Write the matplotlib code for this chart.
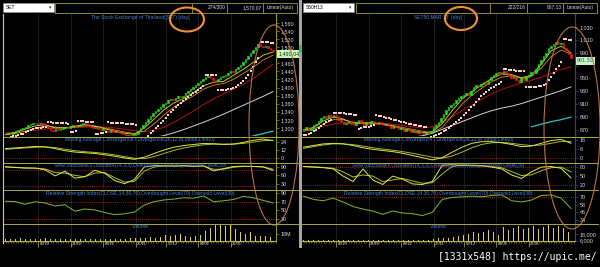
import numpy as np
import matplotlib
matplotlib.use("Agg")
import matplotlib.pyplot as plt
import matplotlib.transforms as mtrans
from matplotlib.patches import Ellipse, Rectangle
from matplotlib.ticker import MultipleLocator

plt.rcParams['font.family'] = ['Liberation Sans', 'DejaVu Sans']

# ---- data ----
dates = ['05/10', '24/10', '09/11', '27/11', '17/12', '04/01', '22/01']
date_bar = [13, 26, 39, 52, 64, 77, 90]

# SET index, daily closes
set_close = [1286, 1288, 1285, 1290, 1292, 1294,
             1297, 1300, 1303, 1306, 1309, 1311,
             1313, 1310, 1312, 1308, 1305,
             1300, 1296, 1293, 1297, 1295, 1298,
             1300, 1303, 1301, 1305, 1307, 1304,
             1308, 1310, 1312, 1309, 1306, 1303,
             1300, 1302, 1298, 1295, 1297, 1293,
             1291, 1294, 1290, 1292, 1289, 1287,
             1284, 1281, 1283, 1279, 1282, 1286,
             1293, 1300, 1308, 1315, 1322, 1330,
             1336, 1341, 1346, 1352, 1358, 1362,
             1368, 1372, 1370, 1375, 1378, 1376,
             1380, 1386, 1391, 1397, 1402, 1406,
             1412, 1416, 1422, 1425, 1428, 1423,
             1419, 1416, 1420, 1425, 1428, 1432,
             1436, 1440, 1438, 1445, 1450, 1455,
             1462, 1470, 1478, 1486, 1494, 1500,
             1508, 1504, 1500, 1502, 1497, 1494, 1490.04]
set_sar = [1275, 1276, 1277, 1279, 1280, 1282,
           1284, 1286, 1289, 1292, 1295, 1298, 1301,
           1300, 1301, 1302, 1302,
           1314, 1314, 1313, 1313, 1312, 1312, 1311, 1311, 1310,
           1290, 1291, 1292,
           1316, 1316, 1316, 1315, 1315, 1315, 1314,
           1285, 1286, 1287, 1288, 1289,
           1314, 1313, 1313, 1312, 1312, 1311, 1311, 1310, 1310, 1309, 1309, 1308,
           1265, 1268, 1272, 1276, 1281, 1287, 1293, 1299, 1305, 1311, 1318, 1325,
           1332, 1339, 1345, 1351, 1356, 1361, 1366, 1371, 1376, 1381, 1386, 1390,
           1395, 1399, 1403,
           1432, 1432, 1431, 1431, 1430,
           1394, 1394, 1395, 1395, 1396, 1397, 1399,
           1402, 1406, 1411, 1417, 1424, 1432, 1441, 1451, 1462, 1474,
           1513, 1513, 1512, 1512, 1511, 1511]
# moving averages, sampled every ~4 bars
set_ma_a = [1284, 1289, 1297, 1305, 1308, 1300, 1300, 1304, 1308, 1304, 1298, 1292, 1287, 1284,
            1300, 1322, 1345, 1362, 1373, 1388, 1405, 1413, 1415, 1430, 1445, 1462, 1480, 1488]
set_ma_b = [1283, 1286, 1292, 1299, 1304, 1302, 1300, 1302, 1305, 1305, 1300, 1295, 1290, 1286,
            1292, 1310, 1332, 1352, 1366, 1380, 1396, 1406, 1410, 1420, 1435, 1450, 1468, 1480]
set_ma_c = [1288, 1289, 1291, 1294, 1297, 1299, 1300, 1301, 1302, 1303, 1302, 1300, 1297, 1293,
            1291, 1294, 1302, 1314, 1328, 1342, 1358, 1372, 1384, 1396, 1408, 1422, 1440, 1458]
set_ma_d = [1252, 1254, 1256, 1257, 1259, 1260, 1261, 1262, 1263, 1264, 1265, 1266, 1267, 1268,
            1270, 1276, 1281, 1288, 1296, 1305, 1314, 1324, 1334, 1345, 1356, 1367, 1378, 1390]
set_ma_e = [np.nan] * 24 + [1274, 1280, 1286, 1292]
set_macd = [14, 15, 16, 17, 16.5, 14, 11, 9, 8, 7, 5, 3, 0.5, -1.5,
            1.5, 7, 12, 16, 18.5, 20, 21.5, 21, 20, 20.5, 23, 26, 28, 25.5]
set_signal = [13, 14, 15, 16, 16.5, 15.5, 13, 11, 9.5, 8.5, 7, 5, 2.5, 0,
              -0.5, 2.5, 7, 11.5, 15, 17.5, 19.5, 20.5, 20.5, 20.5, 21.5, 23.5, 25.5, 26]
set_k = [91, 88, 86, 86, 80, 58, 75, 50, 55, 78, 68, 42, 30, 45,
         90, 95, 94, 93, 95, 92, 94, 76, 84, 92, 93, 92, 90, 78]
set_d = [90, 89, 87, 86, 83, 70, 68, 60, 55, 68, 70, 52, 36, 38,
         75, 90, 94, 94, 94, 93, 93, 82, 82, 89, 92, 92, 91, 82]
set_rsi = [71, 70, 64, 70, 67, 60, 63, 48, 53, 51, 45, 40, 42, 46,
           62, 70, 74, 76, 79, 78, 83, 70, 72, 75, 82, 79, 73, 67]
set_vol = [5, 4, 6, 5, 4, 6, 7, 5, 6, 4, 5, 6,
           5, 6, 4, 5, 7, 6, 5, 4, 6, 5, 4, 6,
           5, 6, 5, 4, 6, 7, 5, 6, 4, 5, 6, 5,
           4, 5, 6, 5, 4, 6, 5, 4, 5, 6, 4, 5,
           6, 5, 7, 6, 8, 9, 7, 10, 8, 11, 9, 12,
           8, 14, 10, 12, 16, 9, 13, 11, 15, 10, 18, 12,
           14, 20, 11, 16, 13, 22, 15, 18, 26, 20, 34, 28,
           40, 24, 42, 30, 38, 22, 44, 26, 32, 20, 24, 16,
           18, 12, 22, 15, 14, 20, 12, 17, 13, 16, 11, 15]

# SET50 futures March 2013
s50_close = [872, 875, 870, 873, 877, 880,
             884, 888, 891, 889, 893, 890,
             894, 891, 886, 882, 879, 881,
             884, 880, 877, 882, 885, 881,
             878, 882, 880, 884, 881, 879,
             882, 880, 877, 879, 876, 873,
             876, 874, 871, 873, 869, 872,
             870, 867, 869, 866, 868, 865,
             864, 867, 865, 869, 874, 878,
             882, 888, 895, 901, 905, 909,
             912, 916, 919, 922, 925, 928,
             924, 930, 936, 940, 938, 941,
             944, 942, 947, 952, 956, 958,
             960, 957, 961, 959, 955, 951,
             953, 948, 945, 950, 947, 952,
             956, 960, 958, 965, 972, 978,
             985, 990, 997, 1001, 1004, 1006,
             1003, 1005, 998, 994, 988, 981.3]
s50_sar = [862, 863, 864, 866, 868, 870, 873, 876,
           879, 882, 884, 886,
           897, 897, 896, 896, 896, 895, 895, 895, 894, 894,
           872, 873, 874, 874, 875, 876, 877,
           893, 892, 891, 890, 889, 888, 887, 886, 885, 884, 883, 882, 881, 880,
           879, 878, 877, 876, 876, 875, 875,
           858, 859, 861, 863, 864, 866, 868, 870, 873, 876, 879, 882, 885, 889,
           893, 897, 901, 905, 909, 913, 918, 922, 926, 929, 932, 935, 937, 940, 942, 944,
           964, 964, 963, 963, 963, 962, 962, 962, 961,
           936, 936, 937, 937, 937, 938, 939, 940, 942,
           948, 953, 958, 964, 969, 976,
           1011, 1011, 1010, 1010]
s50_ma_a = [870, 874, 884, 890, 887, 881, 880, 881, 879, 876, 872, 869, 866, 867,
            880, 900, 918, 930, 940, 950, 957, 956, 951, 955, 972, 993, 1000, 990]
s50_ma_b = [868, 871, 879, 886, 886, 882, 881, 881, 880, 877, 874, 871, 868, 866,
            874, 892, 910, 924, 935, 945, 952, 954, 950, 953, 966, 984, 994, 988]
s50_ma_c = [870, 872, 876, 879, 881, 882, 882, 881, 880, 879, 877, 875, 873, 875,
            882, 890, 900, 909, 918, 926, 933, 938, 943, 947, 952, 958, 964, 968]
s50_ma_d = [845, 846, 847, 848, 849, 850, 851, 852, 853, 855, 857, 859, 861, 865,
            871, 877, 883, 889, 895, 900, 904, 907, 911, 916, 921, 926, 931, 937]
s50_ma_e = [np.nan] * 23 + [875, 879, 883, 886, 890]
s50_macd = [9.5, 11, 12.5, 13, 12.5, 11, 9, 7.5, 6.5, 5.5, 4, 2, 0, -2,
            0, 5, 9.5, 13, 14.5, 14.5, 13.5, 12, 10, 10.5, 13, 15.5, 16.5, 13]
s50_signal = [8.5, 10, 11.5, 12.5, 12.5, 11.8, 10.5, 9, 7.8, 6.8, 5.5, 4, 2.2, 0.5,
              -0.5, 1.5, 5, 9, 12, 13.5, 13.8, 13, 11.8, 11, 11.5, 13, 14.8, 14.5]
s50_k = [80, 78, 76, 72, 48, 30, 72, 35, 20, 48, 38, 22, 20, 30,
         84, 86, 84, 83, 82, 78, 72, 52, 40, 62, 78, 80, 74, 42]
s50_d = [80, 79, 77, 74, 62, 45, 52, 48, 30, 35, 40, 32, 24, 26,
         55, 80, 85, 84, 83, 80, 76, 63, 50, 52, 66, 76, 78, 62]
s50_rsi = [71, 66, 64, 68, 62, 55, 51, 48, 43, 48, 45, 44, 41, 46,
           66, 69, 70, 71, 70, 72, 73, 64, 62, 65, 72, 73, 68, 52]
s50_vol = [6500, 7000, 6200, 6800, 7200, 6600, 7400, 6900, 6300, 7100, 6700, 6400,
           7000, 6600, 7300, 6800, 6500, 7100, 6900, 6200, 6700, 7200, 6600, 6900,
           6800, 7100, 6400, 6900, 7300, 6600, 7000, 6500, 6800, 7200, 6700, 6400,
           6900, 7200, 6600, 7000, 6800, 7400, 6500, 7100, 6900, 7500, 6800, 7200,
           7800, 8200, 7600, 8800, 9200, 8400, 9800, 8900, 10500, 9400, 11200, 10000,
           12000, 10500, 14000, 11500, 16500, 13000, 18000, 12500, 21000, 15000, 19000, 14000,
           22000, 16000, 25000, 18000, 21000, 27000, 17000, 24000, 31000, 20000, 26000, 23000,
           29000, 21000, 33000, 24000, 28000, 22000, 30000, 26000, 32000, 23000, 27000, 25000,
           31000, 24000, 34000, 26000, 30000, 28000, 33000, 25000, 29000, 27000, 22000, 20000]

# ---- drawing ----
W, H = 600, 267
fig = plt.figure(figsize=(W / 100, H / 100), dpi=100, facecolor='black')

TXT = '#d8d8d8'
TITLE = '#4680da'
DOT = '#c42a2a'
SEP = '#a8a844'


def px_axes(x0, y0, x1, y1):
    ax = fig.add_axes([x0 / W, 1 - y1 / H, (x1 - x0) / W, (y1 - y0) / H])
    ax.set_facecolor('black')
    return ax


def setup(ax, p, ylim, ticks, labels=None, minor=None):
    ax.set_xlim(-0.6, -0.6 + (p['x1'] - p['x0']) / 2.5)
    ax.set_ylim(*ylim)
    for s in ('top', 'left', 'bottom'):
        ax.spines[s].set_visible(False)
    ax.spines['right'].set_color(p['axcol'])
    ax.spines['right'].set_linewidth(0.8)
    ax.yaxis.tick_right()
    ax.set_yticks(ticks)
    if labels is not None:
        ax.set_yticklabels(labels)
    if minor:
        ax.yaxis.set_minor_locator(MultipleLocator(minor))
    ax.tick_params(axis='y', which='both', colors=p['axcol'], labelcolor=TXT,
                   labelsize=3.9, length=2, width=0.5, pad=1.5)
    ax.tick_params(axis='y', which='minor', length=1)
    ax.set_xticks(date_bar)
    ax.tick_params(axis='x', length=0, labelbottom=False)
    ax.grid(axis='x', color='#2a2a2a', lw=0.5)
    ax.set_axisbelow(True)


def title(ax, text, dy, h):
    ax.text(0.5, 1 - dy / h, text, transform=ax.transAxes, ha='center',
            va='center', fontsize=3.6, color=TITLE, zorder=6)


def draw_panel(p):
    close = np.array(p['close'], dtype=float)
    n = len(close)
    idx = np.arange(n)
    xs = np.linspace(0, n - 1, len(p['ma_a']))

    # price; the tick hidden under the last-price box gets no label
    ax = px_axes(p['x0'], 14, p['x1'], 136)
    labels = ['' if t == p['hidden_tick'] else '{:,.0f}'.format(t) for t in p['ticks']]
    setup(ax, p, p['ylim'], p['ticks'], labels, minor=10)
    ax.plot(xs, p['ma_e'], color='#2cc4cc', lw=0.9, zorder=2)
    ax.plot(xs, p['ma_d'], color='#d4d4d4', lw=0.7, zorder=2)
    ax.plot(xs, p['ma_c'], color='#b01414', lw=0.7, zorder=2)
    ax.plot(xs, p['ma_b'], color='#e08c1c', lw=0.6, zorder=2)
    ax.plot(xs, p['ma_a'], color='#dede2a', lw=0.6, zorder=2)
    opn = np.r_[close[0], close[:-1]]
    col = np.where(close >= opn, '#22e022', '#f01c1c')
    ax.bar(idx, close - opn, bottom=opn, width=0.62, color=col,
           edgecolor=col, linewidth=0.4, zorder=3)
    ax.scatter(idx, p['sar'], s=0.9, marker='s', color='#ffcccc',
               linewidths=0, zorder=4)
    tr = mtrans.blended_transform_factory(ax.transAxes, ax.transData)
    ax.text(1.008, close[-1], p['last'], transform=tr, ha='left', va='top',
            fontsize=3.9, color=p['lastcol'], clip_on=False, zorder=7,
            bbox=dict(boxstyle='square,pad=0.3', fc='#c8f4bc', ec='none'))
    title(ax, p['title'], 4, 122)

    # MACD
    ax = px_axes(p['x0'], 137, p['x1'], 162)
    setup(ax, p, p['macd_ylim'], p['macd_ticks'])
    ax.axhline(0, color=DOT, ls=(0, (1, 1.5)), lw=0.6)
    ax.plot(xs, p['signal'], color='#9cc030', lw=0.7)
    ax.plot(xs, p['macd'], color='#e6e23c', lw=0.7)
    title(ax, 'Moving Average Convergence / Divergence(26,12,9),Value Line(0)', 3, 25)

    # stochastics
    ax = px_axes(p['x0'], 163, p['x1'], 189)
    setup(ax, p, p['sto_ylim'], p['sto_ticks'])
    for lv in (80, 20):
        ax.axhline(lv, color=DOT, ls=(0, (1, 1.5)), lw=0.6)
    ax.plot(xs, p['d'], color='#a4c232', lw=0.7)
    ax.plot(xs, p['k'], color='#e6e448', lw=0.7)
    title(ax, 'Slow Stochastics Oscillator(14,3,3),Overbought Level(80),Oversold Level(20)', 3, 26)

    # RSI
    ax = px_axes(p['x0'], 190, p['x1'], 223)
    setup(ax, p, p['rsi_ylim'], p['rsi_ticks'])
    for lv in (70, 30):
        ax.axhline(lv, color=DOT, ls=(0, (1, 1.5)), lw=0.6)
    ax.plot(xs, p['rsi'], color='#7cae30', lw=0.75)
    title(ax, 'Relative Strength Index(CLOSE,14,30,70),Overbought Level(70),Oversold Level(30)', 3, 33)

    # volume + date axis
    ax = px_axes(p['x0'], 224, p['x1'], 241)
    setup(ax, p, p['vol_ylim'], p['vol_ticks'], p['vol_labels'])
    ax.bar(idx, p['vol'], width=0.38, color='#d6d25c', zorder=2)
    ax.spines['bottom'].set_visible(True)
    ax.spines['bottom'].set_color('#b4b44a')
    ax.spines['bottom'].set_linewidth(0.8)
    ax.xaxis.set_minor_locator(MultipleLocator(1))
    ax.tick_params(axis='x', which='major', length=4.5, width=0.5,
                   color='#b4b44a', labelbottom=False)
    ax.tick_params(axis='x', which='minor', length=1.3, width=0.4, color='#b4b44a')
    dtr = mtrans.blended_transform_factory(ax.transData, ax.transAxes)
    for b, d in zip(date_bar, dates):
        ax.text(b + 0.7, -0.08, d, transform=dtr, fontsize=2.9, color=TXT,
                ha='left', va='top', clip_on=False)
    title(ax, 'Volume', 2.5, 17)


panels = [
    dict(x0=4, x1=276, axcol='#8e8e32', close=set_close, sar=set_sar,
         ma_a=set_ma_a, ma_b=set_ma_b, ma_c=set_ma_c, ma_d=set_ma_d, ma_e=set_ma_e,
         ylim=(1280, 1582), ticks=list(range(1300, 1561, 20)), hidden_tick=1480,
         last='1,490.04', lastcol='#1e3a1e',
         title='The Stock Exchange of Thailand(SET) [day]',
         macd=set_macd, signal=set_signal, macd_ylim=(-5.4, 30.8), macd_ticks=[0, 12, 24],
         k=set_k, d=set_d, sto_ylim=(11, 104.4), sto_ticks=[30, 60, 90],
         rsi=set_rsi, rsi_ylim=(20.8, 96.9), rsi_ticks=[30, 50, 70, 90],
         vol=set_vol, vol_ylim=(0, 43.7), vol_ticks=[18], vol_labels=['18M']),
    dict(x0=302, x1=575, axcol='#2644a8', close=s50_close, sar=s50_sar,
         ma_a=s50_ma_a, ma_b=s50_ma_b, ma_c=s50_ma_c, ma_d=s50_ma_d, ma_e=s50_ma_e,
         ylim=(860.7, 1050), ticks=list(range(870, 1031, 20)), hidden_tick=970,
         last='981.30', lastcol='#2a5aa8',
         title='SET50 MAR 13  [day]',
         macd=s50_macd, signal=s50_signal, macd_ylim=(-3.9, 18.7), macd_ticks=[0, 8, 16],
         k=s50_k, d=s50_d, sto_ylim=(5, 91.7), sto_ticks=[20, 50, 80],
         rsi=s50_rsi, rsi_ylim=(29.5, 80.6), rsi_ticks=[34, 46, 58, 70],
         vol=s50_vol, vol_ylim=(5100, 36500), vol_ticks=[6000, 18000],
         vol_labels=['6,000', '18,000']),
]
for p in panels:
    draw_panel(p)

# ---- overlay: toolbar, separators, hand-drawn marks ----
ov = fig.add_axes([0, 0, 1, 1], zorder=20)
ov.set_xlim(0, W)
ov.set_ylim(H, 0)
ov.axis('off')
ov.patch.set_alpha(0)

OLIVE = '#86863e'
bars = [(3, 'SET', [(55, 192, ''), (192, 227, '274/300'), (227, 263, '1,570.07'),
                    (263, 297, 'Linear(Auto)')]),
        (303, 'S50H13', [(356, 490, ''), (490, 527, '222/216'), (527, 563, '987.13'),
                         (563, 597, 'Linear(Auto)')])]
for bx, sym, boxes in bars:
    ov.add_patch(Rectangle((bx, 3), 51, 9, fc='white', ec='#909090', lw=0.5))
    ov.text(bx + 3, 7.6, sym, fontsize=3.5, color='black', va='center')
    ov.text(bx + 47, 7.6, '\u25be', fontsize=3.5, color='#303030', va='center',
            ha='center')
    for l, r, t in boxes:
        ov.add_patch(Rectangle((l, 2.5), r - l, 10.5, fc='black', ec=OLIVE, lw=0.7))
        if t.startswith('Linear'):
            ov.text((l + r) / 2, 7.8, t, fontsize=3.5, color=TXT, ha='center', va='center')
        elif t:
            ov.text(r - 1.5, 7.8, t, fontsize=3.5, color=TXT, ha='right', va='center')

for x0, x1 in ((4, 298), (302, 598)):
    for y in (136.5, 162.5, 189.5, 223.5):
        ov.plot([x0, x1], [y, y], color=SEP, lw=0.7)

ov.plot([3, 3], [14, 243], color='#c8c8c8', lw=0.8)
ov.add_patch(Rectangle((299.3, 0), 2.6, 248, fc='#a6a6a6', ec='none'))
ov.add_patch(Rectangle((299.3, 45), 2.6, 7, fc='#3cbc3c', ec='none'))

ov.add_patch(Ellipse((274, 125), 50, 200, fill=False, ec='#b8743e', lw=0.8))
ov.add_patch(Ellipse((572, 128), 56, 202, fill=False, ec='#b8743e', lw=0.8))
ov.add_patch(Ellipse((187, 19.5), 34, 24, fill=False, ec='#f39232', lw=1.5))
ov.add_patch(Ellipse((461, 18.5), 32, 23, fill=False, ec='#f39232', lw=1.5))

ov.text(597, 257, '[1331x548] https://upic.me/', ha='right', va='center',
        fontsize=7.0, family='DejaVu Sans Mono', color='white')

fig.savefig('out.png', dpi=100, facecolor='black')
